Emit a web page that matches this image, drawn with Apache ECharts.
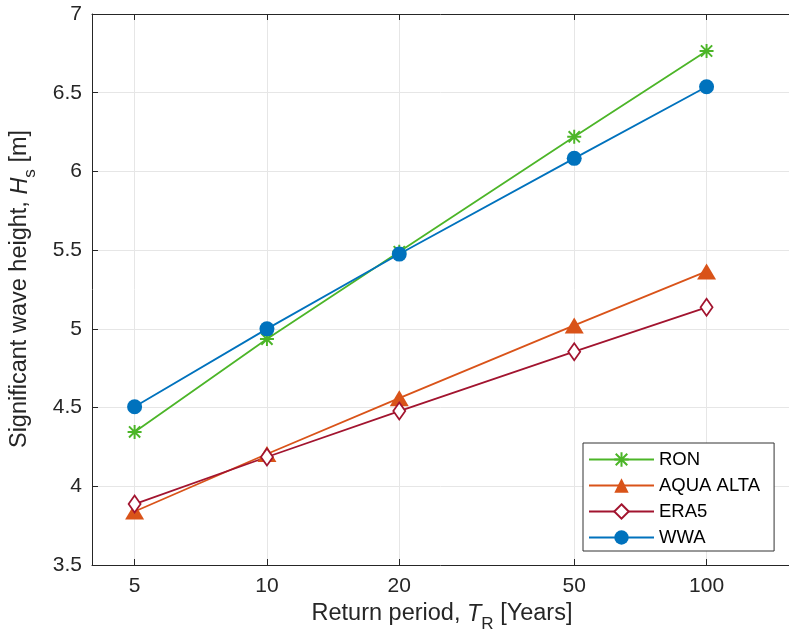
<!DOCTYPE html>
<html><head><meta charset="utf-8">
<script src="https://cdn.jsdelivr.net/npm/echarts@6/dist/echarts.min.js"></script>
<style>html,body{margin:0;padding:0;background:#fff}#c{width:789px;height:642px}</style>
</head><body><div id="c"></div>
<script>
const periods = [5, 10, 20, 50, 100];
const ron = [4.345, 4.935, 5.49, 6.22, 6.765];
const aquaAlta = [3.84, 4.205, 4.56, 5.022, 5.365];
const era5 = [3.887, 4.186, 4.478, 4.855, 5.137];
const wwa = [4.505, 5.0, 5.475, 6.083, 6.538];
const xTicks = [5, 10, 20, 50, 100];
const yTicks = [3.5, 4, 4.5, 5, 5.5, 6, 6.5, 7];
const xMin = 4, xMax = 154;

const FONT = "'Liberation Sans', Arial, sans-serif";
const TXT = '#262626';
const lg = v => Math.log10(v);
const pts = arr => periods.map((p, i) => [lg(p), arr[i]]);
const star = 'path://M0 8.6 L20 8.6 L20 11.4 L0 11.4 Z M8.6 0 L11.4 0 L11.4 20 L8.6 20 Z M1 3 L3 1 L19 17 L17 19 Z M17 1 L19 3 L3 19 L1 17 Z';

const chart = echarts.init(document.getElementById('c'), null, {renderer: 'canvas'});
const xCustom = xTicks.map(lg);
chart.setOption({
  animation: false,
  grid: {left: 92, top: 14, right: 0, bottom: 77, containLabel: false},
  xAxis: [{
    type: 'value', min: lg(xMin), max: lg(xMax),
    axisLine: {show: true, lineStyle: {color: TXT, width: 1}},
    axisTick: {show: true, inside: true, length: 6, customValues: xCustom, lineStyle: {color: TXT}},
    axisLabel: {customValues: xCustom, formatter: v => String(Math.round(Math.pow(10, v))), color: TXT, fontSize: 21, fontFamily: FONT, margin: 11},
    splitLine: {show: true, lineStyle: {color: '#e6e6e6', width: 1}}
  }, {
    type: 'value', position: 'top', min: lg(xMin), max: lg(xMax),
    axisLine: {show: true, lineStyle: {color: TXT, width: 1}},
    axisTick: {show: true, inside: true, length: 6, customValues: xCustom, lineStyle: {color: TXT}},
    axisLabel: {show: false},
    splitLine: {show: false}
  }],
  yAxis: [{
    type: 'value', min: 3.5, max: 7, interval: 0.5,
    axisLine: {show: true, lineStyle: {color: TXT, width: 1}},
    axisTick: {show: true, inside: true, length: 6, lineStyle: {color: TXT}},
    axisLabel: {formatter: v => String(v), color: TXT, fontSize: 21, fontFamily: FONT, margin: 10},
    splitLine: {show: true, lineStyle: {color: '#e6e6e6', width: 1}}
  }],
  legend: {
    orient: 'vertical', left: 583, top: 443,
    padding: [7, 14, 4, 5], itemGap: 7, itemWidth: 65, itemHeight: 18,
    backgroundColor: '#fff', borderColor: '#333', borderWidth: 1,
    textStyle: {fontSize: 18.5, color: '#000', fontFamily: FONT},
    data: ['RON', 'AQUA ALTA', 'ERA5', 'WWA']
  },
  series: [
    {name: 'RON', type: 'line', data: pts(ron), symbol: star, symbolSize: 14,
     color: '#4cb528', lineStyle: {width: 1.8, color: '#4cb528'}, itemStyle: {color: '#4cb528'}},
    {name: 'AQUA ALTA', type: 'line', data: pts(aquaAlta), symbol: 'triangle', symbolSize: [19, 16],
     color: '#d95319', lineStyle: {width: 1.8, color: '#d95319'}, itemStyle: {color: '#d95319'}},
    {name: 'ERA5', type: 'line', data: pts(era5), symbol: 'diamond', symbolSize: [12, 17],
     color: '#a2142f', lineStyle: {width: 1.8, color: '#a2142f'}, itemStyle: {color: '#fff', borderColor: '#a2142f', borderWidth: 1.8}},
    {name: 'WWA', type: 'line', data: pts(wwa), symbol: 'circle', symbolSize: 15,
     color: '#0072bd', lineStyle: {width: 1.8, color: '#0072bd'}, itemStyle: {color: '#0072bd'}}
  ],
  graphic: [
    {type: 'text', x: 442, y: 614, style: {
      text: '{a|Return period, }{i|T}{s|R}{a| [Years]}', align: 'center', verticalAlign: 'middle',
      rich: {
        a: {fontSize: 23.5, fontFamily: FONT, fill: TXT, lineHeight: 38},
        i: {fontSize: 23.5, fontFamily: FONT, fontStyle: 'italic', fill: TXT, lineHeight: 38},
        s: {fontSize: 17, fontFamily: FONT, fill: TXT, lineHeight: 38, verticalAlign: 'bottom'}
      }}},
    {type: 'text', x: 20, y: 289, rotation: Math.PI / 2, style: {
      text: '{a|Significant wave height, }{i|H}{s|s}{a| [m]}', align: 'center', verticalAlign: 'middle',
      rich: {
        a: {fontSize: 23.5, fontFamily: FONT, fill: TXT, lineHeight: 38},
        i: {fontSize: 23.5, fontFamily: FONT, fontStyle: 'italic', fill: TXT, lineHeight: 38},
        s: {fontSize: 17, fontFamily: FONT, fill: TXT, lineHeight: 38, verticalAlign: 'bottom'}
      }}}
  ]
});
</script></body></html>
